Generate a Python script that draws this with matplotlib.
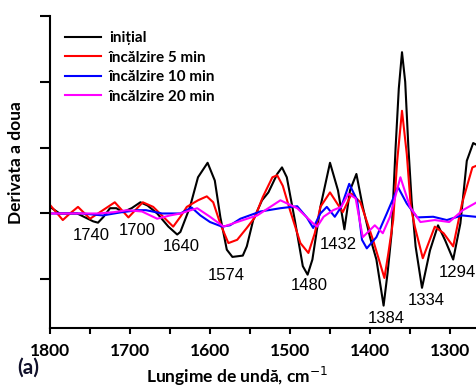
import numpy as np
import matplotlib
matplotlib.use('Agg')
import matplotlib.pyplot as plt

## data (wavenumber, cm-1 ; second derivative, arb. units)
wn_initial = [1800, 1788, 1766, 1746, 1740, 1733, 1725, 1717, 1709, 1698, 1687, 1678, 1666, 1652, 1641,
              1637, 1625, 1615, 1603, 1594, 1587, 1579, 1572, 1559, 1554, 1546, 1535, 1527, 1516, 1510,
              1504, 1494, 1484, 1478, 1472, 1462, 1450, 1440, 1432, 1425, 1417, 1409, 1400, 1392, 1383,
              1378, 1373, 1368, 1364, 1360, 1356, 1352, 1348, 1343, 1335, 1325, 1315, 1306, 1296, 1287,
              1279, 1271, 1268]
d2_initial = [0.1, 0.0, 0.0, -0.12, -0.14, -0.05, 0.08, 0.08, 0.02, 0.08, 0.17, 0.12, 0.0, -0.2, -0.32,
              -0.28, 0.1, 0.55, 0.77, 0.5, -0.06, -0.55, -0.66, -0.64, -0.5, -0.1, 0.2, 0.32, 0.6, 0.7,
              0.55, -0.1, -0.8, -0.93, -0.7, 0.1, 0.77, 0.35, -0.24, 0.35, 0.6, 0.1, -0.36, -0.7, -1.4,
              -0.9, -0.3, 1.0, 1.9, 2.45, 2.0, 1.0, 0.2, -0.5, -1.13, -0.56, -0.18, -0.41, -0.7, -0.15,
              0.8, 1.07, 1.05]

wn_5min = [1800, 1784, 1775, 1765, 1750, 1740, 1719, 1702, 1684, 1671, 1646, 1637, 1629, 1615, 1604,
           1596, 1587, 1577, 1566, 1554, 1544, 1534, 1522, 1516, 1509, 1500, 1487, 1477, 1469, 1462,
           1450, 1434, 1423, 1412, 1396, 1382, 1377, 1371, 1366, 1360, 1354, 1349, 1344, 1334, 1319,
           1308, 1296, 1285, 1272, 1268]
d2_5min = [0.13, -0.1, 0.0, 0.1, -0.08, 0.0, 0.17, -0.06, 0.17, 0.1, -0.2, -0.05, 0.1, 0.2, 0.26,
           0.17, -0.16, -0.45, -0.4, -0.22, -0.06, 0.25, 0.55, 0.58, 0.42, 0.05, -0.45, -0.6, -0.3, 0.1,
           0.32, 0.02, 0.3, 0.17, -0.41, -0.98, -0.6, -0.1, 0.8, 1.56, 0.9, 0.1, -0.2, -0.68, -0.2,
           -0.3, -0.5, 0.15, 0.7, 0.72]

wn_10min = [1800, 1780, 1760, 1734, 1710, 1690, 1680, 1660, 1637, 1623, 1612, 1600, 1585, 1575, 1562,
            1537, 1512, 1491, 1479, 1471, 1462, 1454, 1444, 1436, 1426, 1416, 1410, 1404, 1392, 1379,
            1365, 1354, 1341, 1321, 1304, 1285, 1268]
d2_10min = [0.0, 0.0, 0.0, -0.03, 0.02, 0.05, 0.05, 0.0, 0.0, 0.09, -0.03, -0.13, -0.2, -0.18, -0.08,
            0.03, 0.08, 0.11, -0.06, -0.22, 0.0, 0.1, -0.05, 0.1, 0.45, 0.2, -0.4, -0.53, -0.36, 0.0,
            0.4, 0.15, -0.06, -0.05, -0.1, -0.03, -0.05]

wn_20min = [1800, 1780, 1760, 1740, 1720, 1704, 1685, 1666, 1650, 1637, 1616, 1600, 1583, 1566, 1541,
            1512, 1491, 1472, 1466, 1458, 1446, 1436, 1427, 1418, 1409, 1394, 1384, 1375, 1362, 1350,
            1337, 1319, 1301, 1284, 1268]
d2_20min = [0.0, 0.0, 0.0, 0.0, 0.02, 0.05, 0.03, -0.08, -0.03, 0.0, 0.08, -0.05, -0.2, -0.13, -0.03,
            0.2, 0.08, -0.14, -0.2, -0.05, 0.05, 0.1, 0.3, 0.23, -0.36, -0.18, -0.3, -0.05, 0.55, 0.1,
            -0.13, -0.1, -0.13, 0.05, 0.16]

series_labels = ['inițial', 'încălzire 5 min', 'încălzire 10 min', 'încălzire 20 min']
series_colors = ['black', 'red', 'blue', 'magenta']

# band labels: text, x position, y position
band_text = ['1740', '1700', '1640', '1574', '1480', '1432', '1384', '1334', '1294']
band_x = [1749, 1691, 1636, 1580, 1476, 1440, 1380, 1330, 1291]
band_y = [-0.33, -0.26, -0.5, -0.94, -1.09, -0.47, -1.59, -1.32, -0.9]

fig = plt.figure(figsize=(4.76, 3.89), dpi=100)
ax = fig.add_axes([50/476, 61/389, 426/476, 312/389])

xs = [wn_initial, wn_5min, wn_10min, wn_20min]
ys = [d2_initial, d2_5min, d2_10min, d2_20min]
for x, y, lab, c in zip(xs, ys, series_labels, series_colors):
    ax.plot(x, y, color=c, lw=1.5, label=lab, solid_joinstyle='round')

for t, bx, by in zip(band_text, band_x, band_y):
    ax.text(bx, by, t, ha='center', va='center', fontsize=12, family='Liberation Sans')

ax.set_xlim(1800, 1267.5)
ax.set_ylim(-1.74, 3)
ax.set_xticks([1800, 1700, 1600, 1500, 1400, 1300])
ax.set_xticks(np.arange(1750, 1260, -100), minor=True)
ax.set_yticks([-1, 0, 1, 2, 3])
ax.set_yticklabels([])
ax.spines['top'].set_visible(False)
ax.spines['right'].set_visible(False)
ax.spines['left'].set_linewidth(1.5)
ax.spines['bottom'].set_linewidth(1.5)
ax.tick_params(axis='y', length=7, width=1.5)
ax.tick_params(axis='x', which='both', length=4, width=1.5, pad=7)
for lbl in ax.get_xticklabels():
    lbl.set_fontweight('bold')
    lbl.set_fontsize(12.5)
    lbl.set_family('Lato')

ax.set_xlabel('Lungime de undă, cm$^{-1}$', fontsize=12.5, fontweight='bold', family='Lato', va='center')
ax.xaxis.set_label_coords(0.44, -0.155)
ax.set_ylabel('Derivata a doua', fontsize=12.5, fontweight='bold', family='Lato', va='center')
ax.yaxis.set_label_coords(-0.08, 0.53)
fig.text(17/476, 1-368/389, '(a)', fontsize=15, fontweight='bold', family='Lato', va='center', color='#10102a')

leg = ax.legend(loc='upper left', bbox_to_anchor=(0.02, 0.97), frameon=False,
                prop={'family': 'Lato', 'weight': 'bold', 'size': 11},
                handlelength=2.4, labelspacing=0.35, handletextpad=0.5, borderaxespad=0)

plt.savefig('out.png', dpi=100)
